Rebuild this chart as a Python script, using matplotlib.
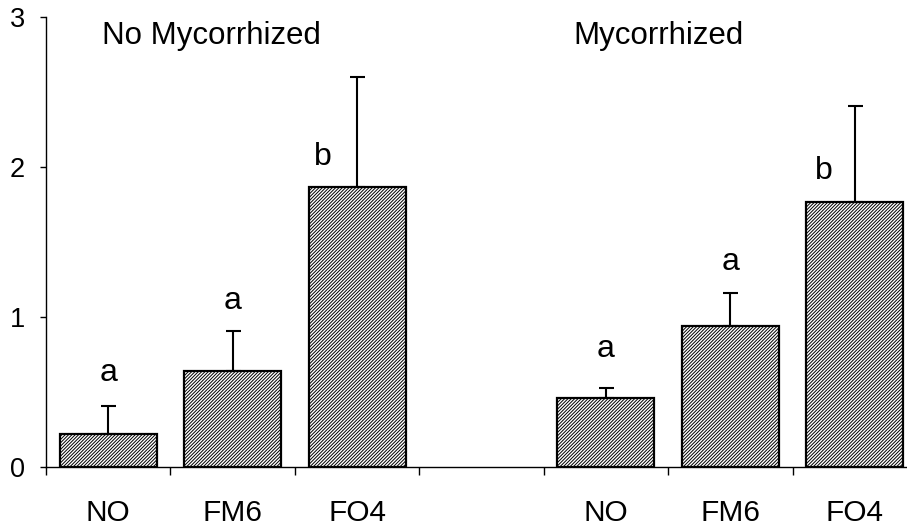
import matplotlib
matplotlib.use("Agg")
import matplotlib.pyplot as plt
import matplotlib.transforms as mtransforms
import numpy as np

categories = ["NO", "FM6", "FO4", "", "NO", "FM6", "FO4"]
means = [0.22, 0.64, 1.87, None, 0.46, 0.94, 1.77]
errors = [0.19, 0.27, 0.73, None, 0.07, 0.22, 0.64]
letters = ["a", "a", "b", None, "a", "a", "b"]
letter_y = [0.573, 1.053, 2.013, None, 0.733, 1.313, 1.92]
letter_dx = [0.0, 0.0, -0.277, None, 0.0, 0.0, -0.25]
group_titles = ["No Mycorrhized", "Mycorrhized"]
y_ticks = [0, 1, 2, 3]

plt.rcParams['font.family'] = ['Liberation Sans', 'DejaVu Sans']
plt.rcParams['hatch.linewidth'] = 0.7
plt.rcParams['hatch.color'] = 'black'

W, H = 907, 527
fig = plt.figure(figsize=(W / 100, H / 100), dpi=100)
left_px, bottom_px, top_px = 46, 467, 17
right_px = 917
ax = fig.add_axes([left_px / W, (H - bottom_px) / H, (right_px - left_px) / W, (bottom_px - top_px) / H])

x = np.arange(len(categories))
for i, (m, e) in enumerate(zip(means, errors)):
    if m is None:
        continue
    ax.bar(x[i], m, width=0.78, facecolor='white', edgecolor='black', hatch='//////////',
           linewidth=1.6, zorder=2)
    ax.errorbar(x[i], m, yerr=[[0], [e]], fmt='none', ecolor='black', elinewidth=1.5,
                capsize=5.4, capthick=1.5, zorder=3)
    ax.text(x[i] + letter_dx[i], letter_y[i], letters[i], ha='center', va='baseline',
            fontsize=23)

ax.set_xlim(-0.5, 6.5)
ax.set_ylim(0, 3)
ax.set_yticks(y_ticks)
ax.set_xticks(np.arange(-0.5, 7, 1.0))
ax.set_xticklabels([])
ax.tick_params(axis='x', which='major', direction='out', length=5.8, width=1.0)
ax.tick_params(axis='y', direction='out', length=4.3, width=1.0, pad=10.8, labelsize=19.5)
for s in ['top', 'right']:
    ax.spines[s].set_visible(False)
for s in ['left', 'bottom']:
    ax.spines[s].set_linewidth(1.0)

trans = mtransforms.blended_transform_factory(ax.transData, ax.transAxes)
label_base = (bottom_px - 521) / (bottom_px - top_px)
for i, c in enumerate(categories):
    if c:
        ax.text(x[i], label_base, c, transform=trans, ha='center', va='baseline',
                fontsize=21.5, clip_on=False)

ax.text(1.0 + (211.5 - 233) / 124.5, 2.82, group_titles[0], ha='center', va='baseline', fontsize=22.5)
ax.text(4.0 + (658.5 - 606) / 124.5, 2.82, group_titles[1], ha='center', va='baseline', fontsize=22.5)

fig.savefig("out.png", dpi=100)
